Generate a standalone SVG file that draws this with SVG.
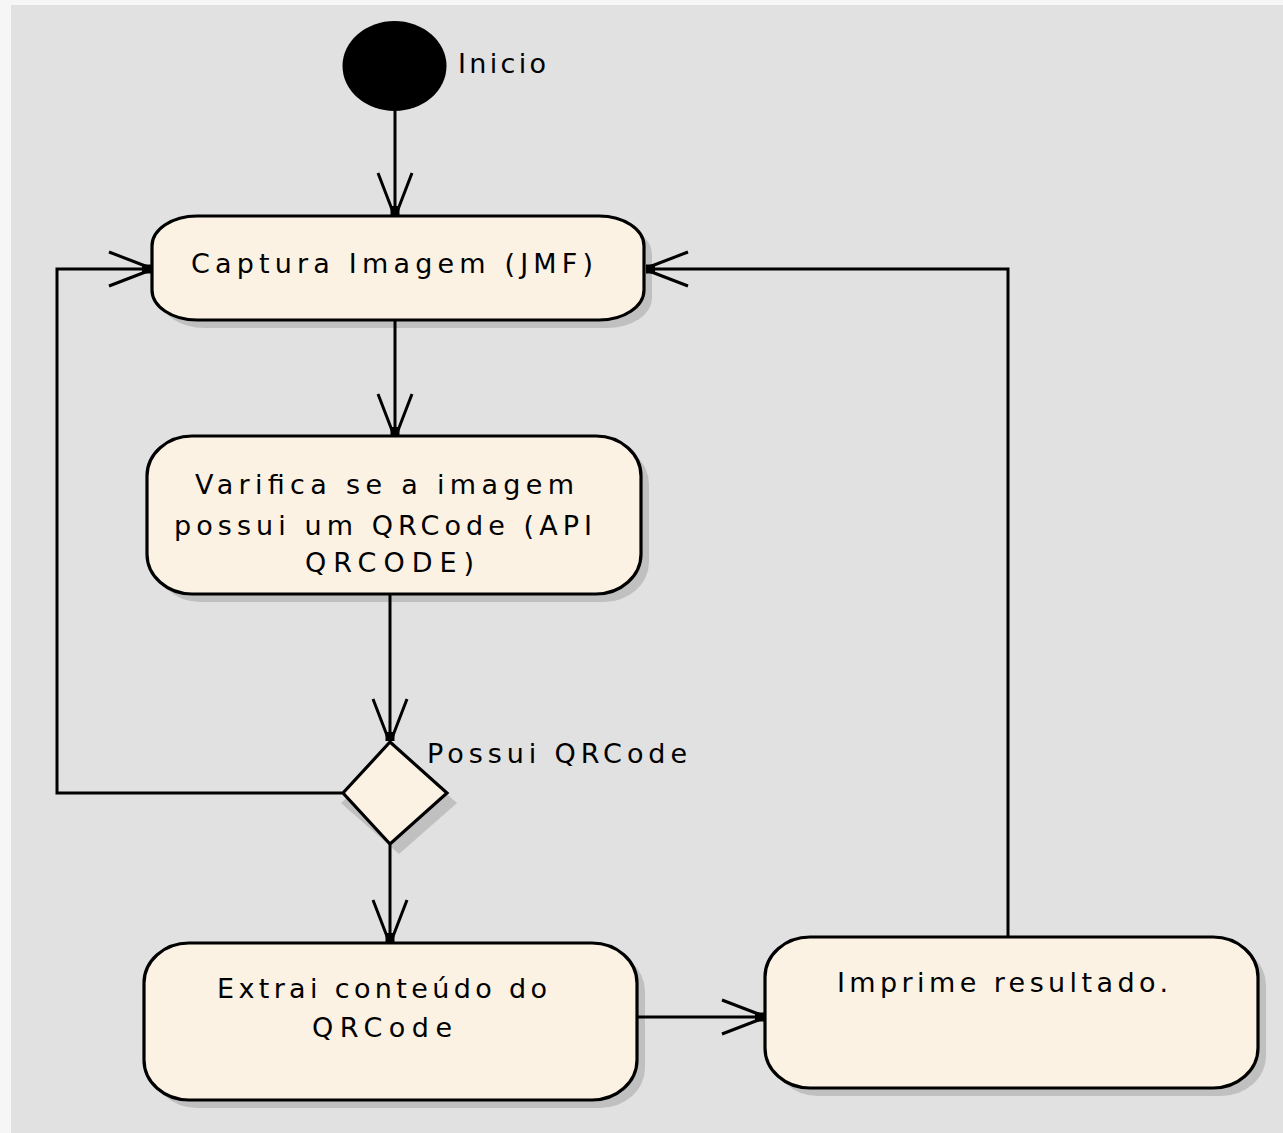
<svg xmlns="http://www.w3.org/2000/svg" width="1283" height="1133" viewBox="0 0 1283 1133">
<style>
.bg{fill:#e1e1e1}
.node{fill:#fbf2e4;stroke:#000;stroke-width:3.2}
.shadow{fill:#c0c0c0}
.lbl{font-family:"DejaVu Sans","Liberation Sans",Arial,sans-serif;font-size:27px;fill:#000}
.conn{fill:none;stroke:#000;stroke-width:3}
</style>
<defs>
<marker id="arr" viewBox="-46 -22 50 44" markerWidth="50" markerHeight="44" refX="0" refY="0" orient="auto" markerUnits="userSpaceOnUse">
<path d="M-42,-17 L-3,-2 M-42,17 L-3,2" fill="none" stroke="#000" stroke-width="3"/>
<rect x="-9" y="-4.5" width="9" height="9" fill="#000"/>
</marker>
</defs>
<rect x="0" y="0" width="1283" height="1133" fill="#f6f6f6"/>
<rect class="bg" x="11" y="5" width="1272" height="1128"/>

<g id="inicio">
<ellipse cx="394.5" cy="66" rx="52" ry="45" fill="#000"/>
<text class="lbl" x="458" y="73" textLength="88" lengthAdjust="spacing">Inicio</text>
</g>

<g id="captura">
<rect class="shadow" x="160" y="224" width="492" height="104" rx="45" ry="30"/>
<rect class="node" x="152" y="216" width="492" height="104" rx="45" ry="30"/>
<text class="lbl" x="191" y="273" textLength="402" lengthAdjust="spacing">Captura Imagem (JMF)</text>
</g>

<g id="varifica">
<rect class="shadow" x="155" y="444" width="494" height="158" rx="45" ry="40"/>
<rect class="node" x="147" y="436" width="494" height="158" rx="45" ry="40"/>
<text class="lbl" x="195" y="494" textLength="379" lengthAdjust="spacing">Varifica se a imagem</text>
<text class="lbl" x="174" y="535" textLength="418" lengthAdjust="spacing">possui um QRCode (API</text>
<text class="lbl" x="305" y="572" textLength="169" lengthAdjust="spacing">QRCODE)</text>
</g>

<g id="decisao">
<polygon class="shadow" points="399,752 457,803 399,854 341,803"/>
<polygon class="node" points="390,742 447,793 390,844 343,793"/>
<text class="lbl" x="427" y="763" textLength="260" lengthAdjust="spacing">Possui QRCode</text>
</g>

<g id="extrai">
<rect class="shadow" x="152" y="951" width="493" height="157" rx="45" ry="40"/>
<rect class="node" x="144" y="943" width="493" height="157" rx="45" ry="40"/>
<text class="lbl" x="217" y="998" textLength="330" lengthAdjust="spacing">Extrai conteúdo do</text>
<text class="lbl" x="312" y="1037" textLength="140" lengthAdjust="spacing">QRCode</text>
</g>

<g id="imprime">
<rect class="shadow" x="773" y="945" width="493" height="151" rx="45" ry="40"/>
<rect class="node" x="765" y="937" width="493" height="151" rx="45" ry="40"/>
<text class="lbl" x="837" y="992" textLength="331" lengthAdjust="spacing">Imprime resultado.</text>
</g>

<g id="connectors">
<path class="conn" d="M395,111 L395,215" marker-end="url(#arr)"/>
<path class="conn" d="M395,321 L395,436" marker-end="url(#arr)"/>
<path class="conn" d="M390,595 L390,741" marker-end="url(#arr)"/>
<path class="conn" d="M390,845 L390,942" marker-end="url(#arr)"/>
<path class="conn" d="M342,793 L57,793 L57,269 L151,269" marker-end="url(#arr)"/>
<path class="conn" d="M638,1017 L764,1017" marker-end="url(#arr)"/>
<path class="conn" d="M1008,936 L1008,269 L646,269" marker-end="url(#arr)"/>
</g>
</svg>
